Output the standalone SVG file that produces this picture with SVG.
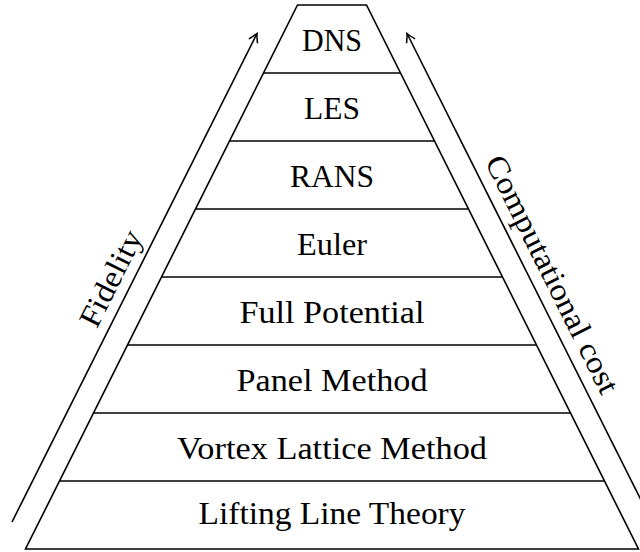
<svg xmlns="http://www.w3.org/2000/svg" width="640" height="552" viewBox="0 0 640 552">
  <style>
    .edge { stroke: #000; stroke-width: 1.6; fill: none; stroke-linejoin: miter; }
    .lbl { font-family: 'Liberation Serif', 'DejaVu Serif', 'Times New Roman', serif; font-size: 31px; fill: #000; text-anchor: middle; }
  </style>
  <defs>
    <marker id="tip" markerUnits="userSpaceOnUse" markerWidth="14" markerHeight="14" viewBox="-10 -7 14 14" refX="0" refY="0" orient="auto" overflow="visible">
      <path d="M -8,-4.5 Q -2.5,-1 0,0 Q -2.5,1 -8,4.5" fill="none" stroke="#000" stroke-width="1.5" stroke-linecap="round"/>
    </marker>
  </defs>
  <rect x="0" y="0" width="640" height="552" fill="#fff"/>

  <g id="pyramid">
    <polygon class="edge" points="297.5,5 366.5,5 638.5,549 25.5,549"/>
  </g>

  <g id="layer-dns">
    <text class="lbl" x="332" y="51" textLength="60" lengthAdjust="spacingAndGlyphs">DNS</text>
  </g>
  <g id="layer-les">
    <line class="edge" x1="263.5" y1="73" x2="400.5" y2="73"/>
    <text class="lbl" x="332" y="119" textLength="56" lengthAdjust="spacingAndGlyphs">LES</text>
  </g>
  <g id="layer-rans">
    <line class="edge" x1="229.5" y1="141" x2="434.5" y2="141"/>
    <text class="lbl" x="332" y="187" textLength="84" lengthAdjust="spacingAndGlyphs">RANS</text>
  </g>
  <g id="layer-euler">
    <line class="edge" x1="195.5" y1="209" x2="468.5" y2="209"/>
    <text class="lbl" x="332" y="255" textLength="70" lengthAdjust="spacingAndGlyphs">Euler</text>
  </g>
  <g id="layer-full-potential">
    <line class="edge" x1="161.5" y1="277" x2="502.5" y2="277"/>
    <text class="lbl" x="332" y="323" textLength="185" lengthAdjust="spacingAndGlyphs">Full Potential</text>
  </g>
  <g id="layer-panel-method">
    <line class="edge" x1="127.5" y1="345" x2="536.5" y2="345"/>
    <text class="lbl" x="332" y="391" textLength="191" lengthAdjust="spacingAndGlyphs">Panel Method</text>
  </g>
  <g id="layer-vortex-lattice">
    <line class="edge" x1="93.5" y1="413" x2="570.5" y2="413"/>
    <text class="lbl" x="332" y="459" textLength="310" lengthAdjust="spacingAndGlyphs">Vortex Lattice Method</text>
  </g>
  <g id="layer-lifting-line">
    <line class="edge" x1="59.5" y1="481" x2="604.5" y2="481"/>
    <text class="lbl" x="332" y="524" textLength="267" lengthAdjust="spacingAndGlyphs">Lifting Line Theory</text>
  </g>

  <g id="connectors">
    <line class="edge" x1="12" y1="522" x2="257" y2="33.5" marker-end="url(#tip)"/>
    <line class="edge" x1="652" y1="522" x2="407" y2="33.5" marker-end="url(#tip)"/>
    <text class="lbl" transform="translate(120,283) rotate(-63.43)" textLength="104" lengthAdjust="spacingAndGlyphs">Fidelity</text>
    <text class="lbl" transform="translate(543,279) rotate(63.43)" textLength="262" lengthAdjust="spacingAndGlyphs">Computational cost</text>
  </g>
</svg>
